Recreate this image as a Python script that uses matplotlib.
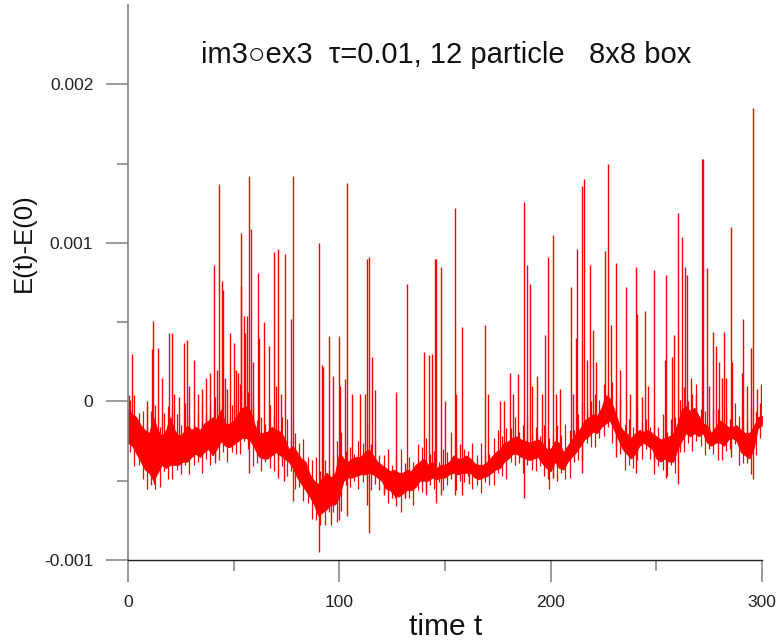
import numpy as np
import matplotlib
matplotlib.use("Agg")
import matplotlib.pyplot as plt

plt.rcParams['font.family'] = ['Liberation Sans', 'DejaVu Sans']

# ---- data (energy drift, units of 1e-4) ----
# dense band of the signal, sampled every 2 time units: lower / upper edge
band_t = np.arange(0, 301, 2)
band_hi = [-0.5, -0.8, -1.0, -1.5, -1.8, -2.0, -1.0, -1.8, -2.2, -1.8,
           -1.0, -1.8, -2.2, -2.0, -1.5, -1.8, -1.6, -1.8, -1.4, -1.2,
           -1.0, -1.1, -0.5, -1.4, -1.4, -1.2, -0.8, -0.4, -0.3, -0.6,
           -1.5, -2.0, -2.0, -1.9, -1.6, -1.8, -1.9, -2.3, -3.0, -2.8,
           -3.2, -3.6, -3.8, -4.6, -5.0, -5.2, -4.8, -4.5, -4.8, -4.5,
           -3.2, -3.6, -3.8, -3.6, -3.5, -3.5, -3.2, -3.0, -3.4, -3.8,
           -4.0, -4.2, -4.4, -4.3, -4.5, -4.5, -4.3, -4.4, -4.0, -3.8,
           -3.6, -4.0, -3.8, -4.2, -4.0, -4.0, -3.8, -3.4, -3.6, -3.6,
           -3.4, -3.6, -3.9, -4.0, -4.0, -3.8, -3.5, -3.2, -3.0, -2.6,
           -2.5, -2.3, -2.2, -2.4, -2.5, -2.6, -2.5, -2.4, -2.6, -3.0,
           -3.0, -2.5, -2.6, -3.2, -2.8, -2.4, -2.0, -1.7, -1.2, -1.0,
           -0.8, -0.9, -0.4, 0.4, 0.2, -0.5, -1.3, -1.8, -2.0, -2.3,
           -2.0, -1.8, -1.9, -1.8, -2.0, -2.2, -2.4, -2.3, -2.2, -2.0,
           -1.4, -0.5, -0.3, -0.6, -0.4, -0.9, -1.4, -1.5, -2.0, -1.6,
           -1.2, -1.4, -1.6, -1.6, -1.5, -1.8, -2.0, -2.0, -1.6, -1.0,
           -0.9]
band_lo = [-2.6, -2.8, -3.3, -3.8, -4.3, -4.5, -5.0, -4.5, -4.0, -4.2,
           -4.0, -4.0, -4.0, -3.8, -3.8, -3.5, -3.3, -3.5, -3.2, -3.0,
           -3.4, -3.0, -2.5, -2.8, -2.9, -2.7, -2.5, -2.3, -2.3, -2.5,
           -3.0, -3.5, -3.6, -3.6, -3.4, -3.2, -3.4, -3.6, -3.8, -4.2,
           -4.8, -5.2, -5.6, -6.0, -6.5, -7.2, -7.0, -6.8, -6.5, -6.5,
           -6.0, -5.0, -4.8, -4.8, -4.7, -4.6, -4.6, -4.5, -4.6, -4.8,
           -5.0, -5.5, -5.6, -5.9, -6.0, -5.8, -5.6, -5.6, -5.4, -5.0,
           -5.0, -5.0, -4.8, -4.9, -4.8, -4.8, -4.6, -4.5, -4.6, -4.5,
           -4.5, -4.5, -4.8, -4.9, -4.8, -4.7, -4.5, -4.3, -4.2, -3.8,
           -3.6, -3.3, -3.3, -3.5, -3.6, -3.7, -3.6, -3.5, -3.9, -4.2,
           -4.4, -3.8, -4.2, -4.3, -3.8, -3.5, -3.2, -2.8, -2.4, -2.2,
           -1.9, -2.0, -1.6, -1.4, -1.2, -1.8, -2.4, -3.0, -3.3, -3.6,
           -3.3, -2.8, -2.6, -2.8, -3.0, -3.6, -3.8, -3.6, -3.8, -3.8,
           -3.0, -2.5, -2.0, -2.2, -2.0, -2.2, -2.0, -2.6, -2.8, -2.6,
           -2.6, -2.8, -2.4, -2.3, -2.5, -3.2, -3.4, -3.6, -3.0, -1.7,
           -1.5]

# short-term jitter of the signal at the odd time units: local max / min
jitter_t = np.arange(1, 300, 2)
jitter_hi = [0.1, 0.4, -0.7, -0.6, -0.3, -0.6, -0.2, -1.6, -0.7, -0.3,
             -0.7, -0.8, -1.5, -0.1, -0.9, -1.4, -0.7, -0.2, -0.8, -0.2,
             0.3, 0.0, 0.2, -1.2, -0.2, -0.2, 1.1, 0.0, 0.6, -0.2,
             -1.2, -1.0, -1.4, -0.2, -1.0, -1.6, -1.0, -1.1, -2.4, -2.0,
             -2.6, -2.4, -3.5, -3.7, -3.5, -4.4, -3.7, -4.3, -3.4, -2.5,
             -1.9, -3.1, -2.9, -3.3, -2.5, -2.6, -1.5, -2.7, -2.5, -3.4,
             -3.4, -3.0, -4.0, -3.4, -3.0, -3.9, -3.5, -3.8, -2.7, -2.9,
             -2.3, -3.3, -3.1, -3.8, -3.0, -3.2, -1.9, -3.1, -2.7, -3.0,
             -3.1, -2.6, -3.4, -2.6, -3.2, -3.3, -2.3, -1.8, -2.2, -1.7,
             -1.7, -1.0, -1.9, -1.5, -1.0, -2.1, -1.6, -2.2, -1.5, -2.3,
             -2.2, -1.5, -2.1, -1.4, -1.8, -1.8, -0.8, 0.0, -0.6, 0.0,
             0.5, 0.1, 1.1, 0.6, 1.2, 0.1, 0.2, -1.5, -1.1, -1.6,
             -0.5, -1.3, -1.1, -1.6, -1.0, -1.6, -0.8, -1.9, -1.1, -1.0,
             0.1, 0.9, 0.0, 0.5, 1.1, -0.5, -0.6, -1.3, -0.5, -0.5,
             -0.9, -0.4, -1.1, -0.1, -0.9, -1.6, -1.1, -0.4, -0.6, -0.1]
jitter_lo = [-3.2, -4.1, -4.0, -4.9, -5.5, -5.3, -5.5, -5.4, -4.4, -4.9,
             -4.9, -4.3, -4.6, -4.0, -4.6, -4.0, -3.8, -4.5, -3.6, -4.0,
             -3.6, -3.7, -3.2, -3.8, -3.2, -3.3, -3.3, -2.5, -3.0, -4.1,
             -3.9, -4.4, -3.8, -4.2, -4.4, -3.7, -4.1, -4.7, -4.4, -5.5,
             -5.4, -6.3, -6.4, -7.4, -7.5, -7.8, -7.8, -7.0, -7.0, -7.6,
             -6.9, -5.3, -5.4, -5.0, -5.5, -5.1, -4.9, -5.6, -5.2, -5.6,
             -5.9, -6.4, -6.1, -6.6, -7.0, -6.1, -6.1, -6.5, -5.6, -5.7,
             -5.9, -5.3, -5.5, -5.1, -5.6, -5.3, -4.9, -5.6, -5.0, -5.1,
             -4.7, -5.5, -5.3, -5.8, -5.1, -5.3, -5.3, -4.5, -4.7, -4.9,
             -3.8, -4.0, -3.9, -4.5, -4.0, -4.3, -4.4, -4.1, -4.7, -5.5,
             -4.8, -5.0, -4.5, -4.9, -4.8, -3.8, -3.7, -3.7, -2.6, -2.9,
             -2.9, -2.3, -2.2, -1.6, -2.6, -2.9, -3.3, -4.3, -4.0, -4.2,
             -3.7, -3.6, -3.0, -3.6, -4.6, -4.1, -4.3, -4.7, -4.0, -4.5,
             -3.2, -3.2, -2.6, -3.1, -2.5, -2.8, -3.4, -3.0, -3.3, -3.7,
             -3.7, -3.1, -3.0, -2.7, -4.0, -3.9, -3.9, -4.6, -3.4, -2.3]

# upward spikes: time, peak value
spike_t = [0.3, 2.0, 9.0, 11.5, 12.0, 14.2, 16.0, 19.5, 20.9, 22.0,
           24.0, 26.5, 27.8, 29.0, 31.2, 33.0, 35.0, 37.0, 39.0, 40.7,
           42.0, 43.2, 44.3, 44.8, 46.0, 47.0, 48.4, 50.3, 51.0, 52.0,
           53.3, 53.5, 54.8, 55.5, 56.5, 57.3, 58.4, 59.2, 61.4, 62.0,
           64.2, 66.5, 69.0, 70.0, 70.8, 72.5, 74.1, 77.0, 78.2, 90.2,
           91.8, 92.5, 95.0, 97.0, 100.0, 100.5, 102.7, 103.6, 106.0, 110.0,
           112.0, 112.9, 114.2, 115.6, 117.0, 126.7, 131.9, 140.0, 142.5, 144.0,
           145.4, 145.7, 148.0, 150.0, 154.7, 155.2, 157.9, 168.8, 170.5, 176.0,
           178.0, 180.8, 182.0, 184.5, 187.2, 188.6, 190.2, 191.0, 193.5, 196.0,
           197.2, 198.9, 201.0, 202.5, 204.5, 209.5, 210.5, 212.0, 212.5, 214.7,
           215.6, 217.0, 218.5, 219.8, 221.5, 225.6, 227.1, 228.5, 231.0, 233.0,
           235.5, 237.5, 240.2, 241.0, 243.0, 244.8, 246.0, 248.9, 254.3, 254.6,
           257.5, 258.5, 260.3, 262.0, 263.4, 264.5, 266.5, 269.0, 271.6, 271.9,
           273.8, 275.0, 277.0, 278.0, 279.5, 281.0, 282.0, 283.0, 285.5, 286.0,
           290.5, 291.1, 293.0, 294.8, 295.7, 297.5, 299.6]
spike_v = [0.4, 3.0, 0.0, 3.3, 5.1, 3.4, 1.5, 4.3, 4.3, 0.5,
           0.3, 3.7, 3.9, 1.0, 2.6, 0.5, 0.8, 1.5, 1.8, 8.6,
           2.0, 13.7, 7.6, 7.0, 1.5, 0.8, 4.3, 3.7, 2.0, 1.8,
           7.3, 10.6, 5.4, 4.3, 5.4, 14.2, 10.9, 2.5, 8.1, 4.0,
           5.0, 3.5, 9.4, 1.0, 9.6, 0.5, 9.3, 5.2, 14.2, 10.0,
           2.3, 2.2, 4.1, 1.6, 4.1, 1.0, 1.4, 13.8, 0.5, 0.5,
           0.5, 9.0, 9.1, 2.8, 0.7, 0.6, 7.4, 3.1, 2.9, 3.0,
           9.0, 9.0, 8.5, 0.0, 12.2, 0.5, 4.7, 4.8, 0.5, 0.0,
           0.0, 1.8, 0.5, 1.7, 12.6, 8.6, 7.4, 1.0, 1.6, 0.5,
           4.2, 9.1, 10.5, 0.5, 0.8, 7.2, 0.5, 4.0, 9.6, 13.6,
           14.0, 2.6, 8.6, 4.5, 2.5, 9.5, 15.0, 4.8, 8.7, 2.0,
           7.2, 0.5, 8.5, 5.5, 0.3, 5.7, 1.0, 8.3, 2.6, 8.0,
           2.8, 4.2, 11.9, 10.4, 8.5, 8.0, 1.5, 0.5, 15.3, 15.3,
           8.4, 1.0, 4.4, 3.5, 2.5, 1.5, 4.4, 1.5, 11.0, 2.5,
           1.8, 5.2, 1.0, 3.4, 18.5, 0.8, 1.1]

# downward dips: time, minimum value
dip_t = [12.4, 41.0, 57.3, 70.8, 74.0, 78.2, 90.2, 96.0, 100.0, 103.6,
         112.9, 114.2, 121.0, 126.5, 131.0, 141.0, 145.7, 148.0, 154.7, 157.9,
         161.5, 187.2, 198.9, 201.0, 214.8, 231.0, 240.2, 249.0, 254.6, 260.3,
         285.5, 295.7]
dip_v = [-5.2, -3.9, -4.5, -4.8, -5.0, -6.3, -9.5, -7.8, -7.5, -7.2,
         -6.5, -8.3, -5.8, -6.1, -6.1, -5.8, -6.4, -5.9, -5.9, -5.9,
         -5.2, -6.1, -4.9, -4.8, -4.5, -3.5, -4.5, -3.8, -4.8, -5.2,
         -3.5, -4.9]

title = "im3\u25CBex3  \u03C4=0.01, 12 particle   8x8 box"
xlabel = "time t"
ylabel = "E(t)-E(0)"
xticks = [0, 100, 200, 300]
yticks = [-0.001, 0, 0.001, 0.002]
yticklabels = ["-0.001", "0", "0.001", "0.002"]

# ---- plotting ----
W, H = 779, 642
fig = plt.figure(figsize=(W / 100, H / 100), dpi=100)
ax = fig.add_axes([128 / W, (H - 560) / H, 634 / W, 555 / H])

scale = 1e-4
bt = np.asarray(band_t, float)
lo = np.asarray(band_lo) * scale
hi = np.asarray(band_hi) * scale
mid = 0.5 * (lo + hi)
red = '#ff0000'

ax.fill_between(bt, lo, hi, color=red, lw=0.6, edgecolor=red)
ax.vlines(jitter_t, np.asarray(jitter_lo) * scale, np.asarray(jitter_hi) * scale,
          color=red, lw=0.9)

def nearest_mid(t):
    return mid[int(round(t / 2.0))]

st = np.asarray(spike_t, float)
sv = np.asarray(spike_v) * scale
ax.vlines(st, [nearest_mid(t) for t in st], sv, color=red, lw=1.0)
dt = np.asarray(dip_t, float)
dv = np.asarray(dip_v) * scale
ax.vlines(dt, dv, [nearest_mid(t) for t in dt], color=red, lw=1.0)

ax.set_xlim(0, 300)
ax.set_ylim(-0.001, 0.0025)
for s in ('top', 'right'):
    ax.spines[s].set_visible(False)
ax.spines['left'].set_color('#808080')
ax.spines['left'].set_linewidth(1.2)
ax.spines['bottom'].set_color('#202020')
ax.spines['bottom'].set_linewidth(1.0)

ax.set_xticks(xticks)
ax.set_xticks([50, 150, 250], minor=True)
ax.set_yticks(yticks)
ax.set_yticklabels(yticklabels)
ax.set_yticks([-0.0005, 0.0005, 0.0015], minor=True)
ax.tick_params(which='major', direction='out', length=16, width=1.1,
               color='#808080', labelsize=12.5, pad=9, labelcolor='#222222')
ax.tick_params(which='minor', direction='out', length=8, width=1.1,
               color='#808080')

fig.text(446 / W, 1 - 55 / H, title, ha='center', va='center', fontsize=21,
         color='#111111')
fig.text(446 / W, 1 - 627 / H, xlabel, ha='center', va='center', fontsize=21.5,
         color='#111111')
fig.text(24 / W, 1 - 243 / H, ylabel, ha='center', va='center', rotation=90,
         fontsize=18.5, color='#111111')

fig.savefig('out.png', dpi=100)
